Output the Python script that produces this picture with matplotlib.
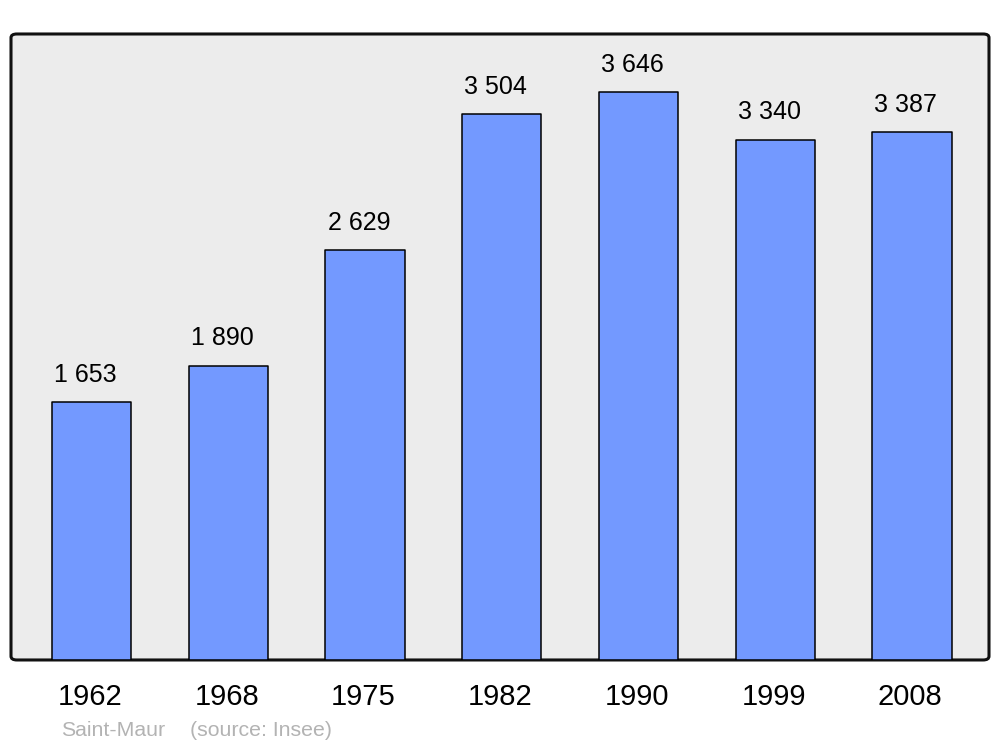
import matplotlib
matplotlib.use("Agg")
import matplotlib.pyplot as plt
from matplotlib.patches import FancyBboxPatch
from matplotlib.transforms import blended_transform_factory

years = ["1962", "1968", "1975", "1982", "1990", "1999", "2008"]
population = [1653, 1890, 2629, 3504, 3646, 3340, 3387]
value_labels = ["1 653", "1 890", "2 629", "3 504", "3 646", "3 340", "3 387"]

plt.rcParams["font.family"] = ["Liberation Sans", "DejaVu Sans"]

fig = plt.figure(figsize=(10, 7.47), dpi=100)
ax = fig.add_axes([0.011, 0.1165, 0.978, 0.838])
ax.patch.set_visible(False)
for s in ax.spines.values():
    s.set_visible(False)

# Rounded frame with grey background.
frame = FancyBboxPatch((0, 0), 1, 1, boxstyle="round,pad=0,rounding_size=0.006",
                       transform=ax.transAxes, facecolor="#ececec",
                       edgecolor="#111111", linewidth=2.2, zorder=0, clip_on=False)
ax.add_patch(frame)

x = range(len(years))
ax.bar(x, population, width=0.58, color="#7399ff", edgecolor="#000000",
       linewidth=1.1, joinstyle="round", zorder=2)

# Value labels sit a little left of the bar centre, as in the original.
for i, (v, lab) in enumerate(zip(population, value_labels)):
    ax.annotate(lab, (i, v), xytext=(-4.5, 14.5), textcoords="offset points",
                ha="center", va="baseline", fontsize=18, color="#000000")

ax.set_xlim(-0.59, 6.563)
ax.set_ylim(0, 4018)
ax.set_xticks([])
ax.set_yticks([])

trans = blended_transform_factory(ax.transData, fig.transFigure)
for i, y in enumerate(years):
    ax.annotate(y, (i, 1 - 697 / 747), xycoords=trans, xytext=(-1.2, 0),
                textcoords="offset points", ha="center", va="center",
                fontsize=21, color="#000000")

fig.text(0.061, 1 - 730 / 747, "Saint-Maur", ha="left", va="center",
         fontsize=15.3, color="#b3b3b3")
fig.text(0.190, 1 - 730 / 747, "(source: Insee)", ha="left", va="center",
         fontsize=15.3, color="#b3b3b3")

fig.savefig("out.png", dpi=100, facecolor="white")
